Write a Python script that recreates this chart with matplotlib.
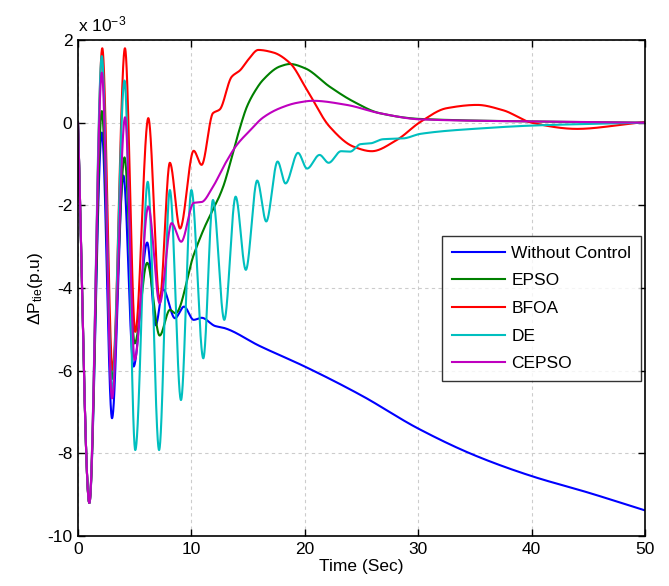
import numpy as np
import matplotlib
matplotlib.use("Agg")
import matplotlib.pyplot as plt

plt.rcParams['font.family'] = ['Liberation Sans', 'DejaVu Sans']
plt.rcParams['mathtext.fontset'] = 'custom'
plt.rcParams['mathtext.rm'] = 'Liberation Sans'
plt.rcParams['mathtext.it'] = 'Liberation Sans'

# ---- data (time in s, dP_tie in 1e-3 p.u.) ----
t_without = [0, 1.0, 2.1, 3.0, 4.0, 4.9, 6.1, 6.85, 7.5, 8.55, 9.35, 10.2, 10.9,
             12.1, 12.8, 16.0, 20.0, 25.0, 30.0, 35.0, 40.0, 45.0, 50.0]
y_without = [0, -9.2, -0.24, -7.15, -1.28, -5.9, -2.9, -4.9, -4.03, -4.73, -4.45, -4.77, -4.72,
             -4.92, -4.96, -5.4, -5.9, -6.6, -7.4, -8.05, -8.55, -8.95, -9.38]

t_epso = [0, 1.0, 2.1, 3.0, 4.1, 5.0, 6.1, 7.2, 8.1, 8.6, 10.2, 11.05, 12.8, 13.4, 14.2,
          14.9, 15.6, 16.3, 17.8, 18.7, 20.0, 22.2, 24.3, 26.6, 30.2, 40.0, 50.0]
y_epso = [0, -9.2, 0.28, -6.2, -0.84, -5.34, -3.39, -5.15, -4.53, -4.61, -3.2, -2.6, -1.55, -1.0, -0.2,
          0.39, 0.76, 1.03, 1.36, 1.42, 1.32, 0.87, 0.51, 0.23, 0.09, 0.03, 0.0]

t_bfoa = [0, 1.0, 2.14, 3.05, 4.14, 5.05, 6.2, 7.2, 8.1, 9.0, 10.2, 10.9, 11.9, 12.5,
          13.55, 14.3, 15.0, 15.9, 17.2, 18.7, 20.2, 22.2, 24.3, 25.9, 28.1, 30.2,
          32.5, 35.2, 37.5, 40.0, 44.0, 48.0, 50.0]
y_bfoa = [0, -9.2, 1.80, -5.98, 1.80, -5.06, 0.11, -4.29, -0.97, -2.56, -0.68, -1.02, 0.23, 0.32,
          1.11, 1.27, 1.52, 1.76, 1.70, 1.44, 0.79, -0.10, -0.58, -0.69, -0.42, 0.02,
          0.35, 0.43, 0.30, 0.0, -0.15, -0.05, 0.02]

t_de = [0, 1.0, 2.1, 3.0, 4.1, 5.05, 6.15, 7.15, 8.1, 9.08, 10.0, 11.05, 11.9, 12.9,
        13.9, 14.8, 15.8, 16.6, 17.6, 18.3, 19.4, 20.2, 21.3, 22.1, 23.2, 24.0, 24.9,
        25.8, 26.9, 28.7, 30.2, 35.4, 40.0, 45.0, 50.0]
y_de = [0, -9.2, 1.61, -6.5, 1.02, -7.92, -1.43, -7.92, -1.63, -6.71, -1.63, -5.70, -1.87, -4.77,
        -1.79, -3.56, -1.40, -2.39, -0.94, -1.47, -0.73, -1.11, -0.78, -0.97, -0.69, -0.70, -0.52,
        -0.50, -0.40, -0.38, -0.27, -0.14, -0.07, -0.03, 0.0]

t_cepso = [0, 1.0, 2.1, 3.0, 4.15, 5.0, 6.2, 7.2, 8.25, 9.1, 10.2, 10.9, 11.9, 13.0,
           14.0, 15.2, 16.3, 17.8, 19.3, 20.7, 23.7, 26.6, 30.2, 40.0, 50.0]
y_cepso = [0, -9.2, 1.21, -6.67, 0.13, -5.74, -2.03, -4.37, -2.43, -2.88, -1.94, -1.92, -1.55, -0.98,
           -0.54, -0.18, 0.12, 0.35, 0.48, 0.53, 0.43, 0.23, 0.08, 0.03, 0.0]

labels = ['Without Control', 'EPSO', 'BFOA', 'DE', 'CEPSO']
colors = ['#0000FF', '#008000', '#FF0000', '#00BFBF', '#BF00BF']

x_ticks = [0, 10, 20, 30, 40, 50]
y_ticks = [-10, -8, -6, -4, -2, 0, 2]


def pchip(x, y, xn):
    """Monotone cubic drawing helper (shape-preserving curve through read points)."""
    x = np.asarray(x, float); y = np.asarray(y, float)
    h = np.diff(x); d = np.diff(y) / h
    m = np.zeros_like(y)
    for k in range(1, len(x) - 1):
        if d[k - 1] * d[k] > 0:
            w1 = 2 * h[k] + h[k - 1]; w2 = h[k] + 2 * h[k - 1]
            m[k] = (w1 + w2) / (w1 / d[k - 1] + w2 / d[k])
    m[0] = d[0]; m[-1] = d[-1]
    idx = np.clip(np.searchsorted(x, xn) - 1, 0, len(h) - 1)
    s = (xn - x[idx]) / h[idx]
    h00 = 2 * s**3 - 3 * s**2 + 1; h10 = s**3 - 2 * s**2 + s
    h01 = -2 * s**3 + 3 * s**2; h11 = s**3 - s**2
    return (h00 * y[idx] + h10 * h[idx] * m[idx] + h01 * y[idx + 1] + h11 * h[idx] * m[idx + 1])


series = [(t_without, y_without), (t_epso, y_epso), (t_bfoa, y_bfoa),
          (t_de, y_de), (t_cepso, y_cepso)]

fig = plt.figure(figsize=(6.69, 5.86), dpi=100)
ax = fig.add_axes([0.1166, 0.0853, 0.8475, 0.8464])

tt = np.linspace(0, 50, 5001)
for (tx, ty), lab, col in zip(series, labels, colors):
    ax.plot(tt, pchip(tx, ty, tt) * 1e-3, color=col, lw=1.5, label=lab)

ax.set_xlim(0, 50)
ax.set_ylim(-10e-3, 2e-3)
ax.set_xticks(x_ticks)
ax.set_yticks([v * 1e-3 for v in y_ticks])
ax.set_xticklabels([str(v) for v in x_ticks])
ax.set_yticklabels([str(v) for v in y_ticks])
ax.tick_params(direction='in', top=True, right=True, length=5, width=1.0,
               labelsize=12.5, pad=4)
for sp in ax.spines.values():
    sp.set_linewidth(1.2)
ax.grid(True, linestyle=(0, (3, 3)), color='#cccccc', linewidth=0.8)
ax.set_axisbelow(True)

ax.text(0.0, 1.012, r'x 10$^{-3}$', transform=ax.transAxes, fontsize=12.5,
        ha='left', va='bottom')
ax.set_xlabel('Time (Sec)', fontsize=12.5, labelpad=2)
ax.set_ylabel(r'$\Delta$P$_{\mathrm{tie}}$(p.u)', fontsize=12.5, labelpad=2)

leg = ax.legend(loc='upper right', bbox_to_anchor=(0.993, 0.605), fontsize=12.5,
                frameon=True, fancybox=False, handlelength=3.1, borderpad=0.55,
                labelspacing=0.72, handletextpad=0.35, borderaxespad=0.0)
leg.get_frame().set_edgecolor('black')
leg.get_frame().set_linewidth(1.0)
for ln in leg.get_lines():
    ln.set_linewidth(1.5)

fig.savefig('out.png', dpi=100)
